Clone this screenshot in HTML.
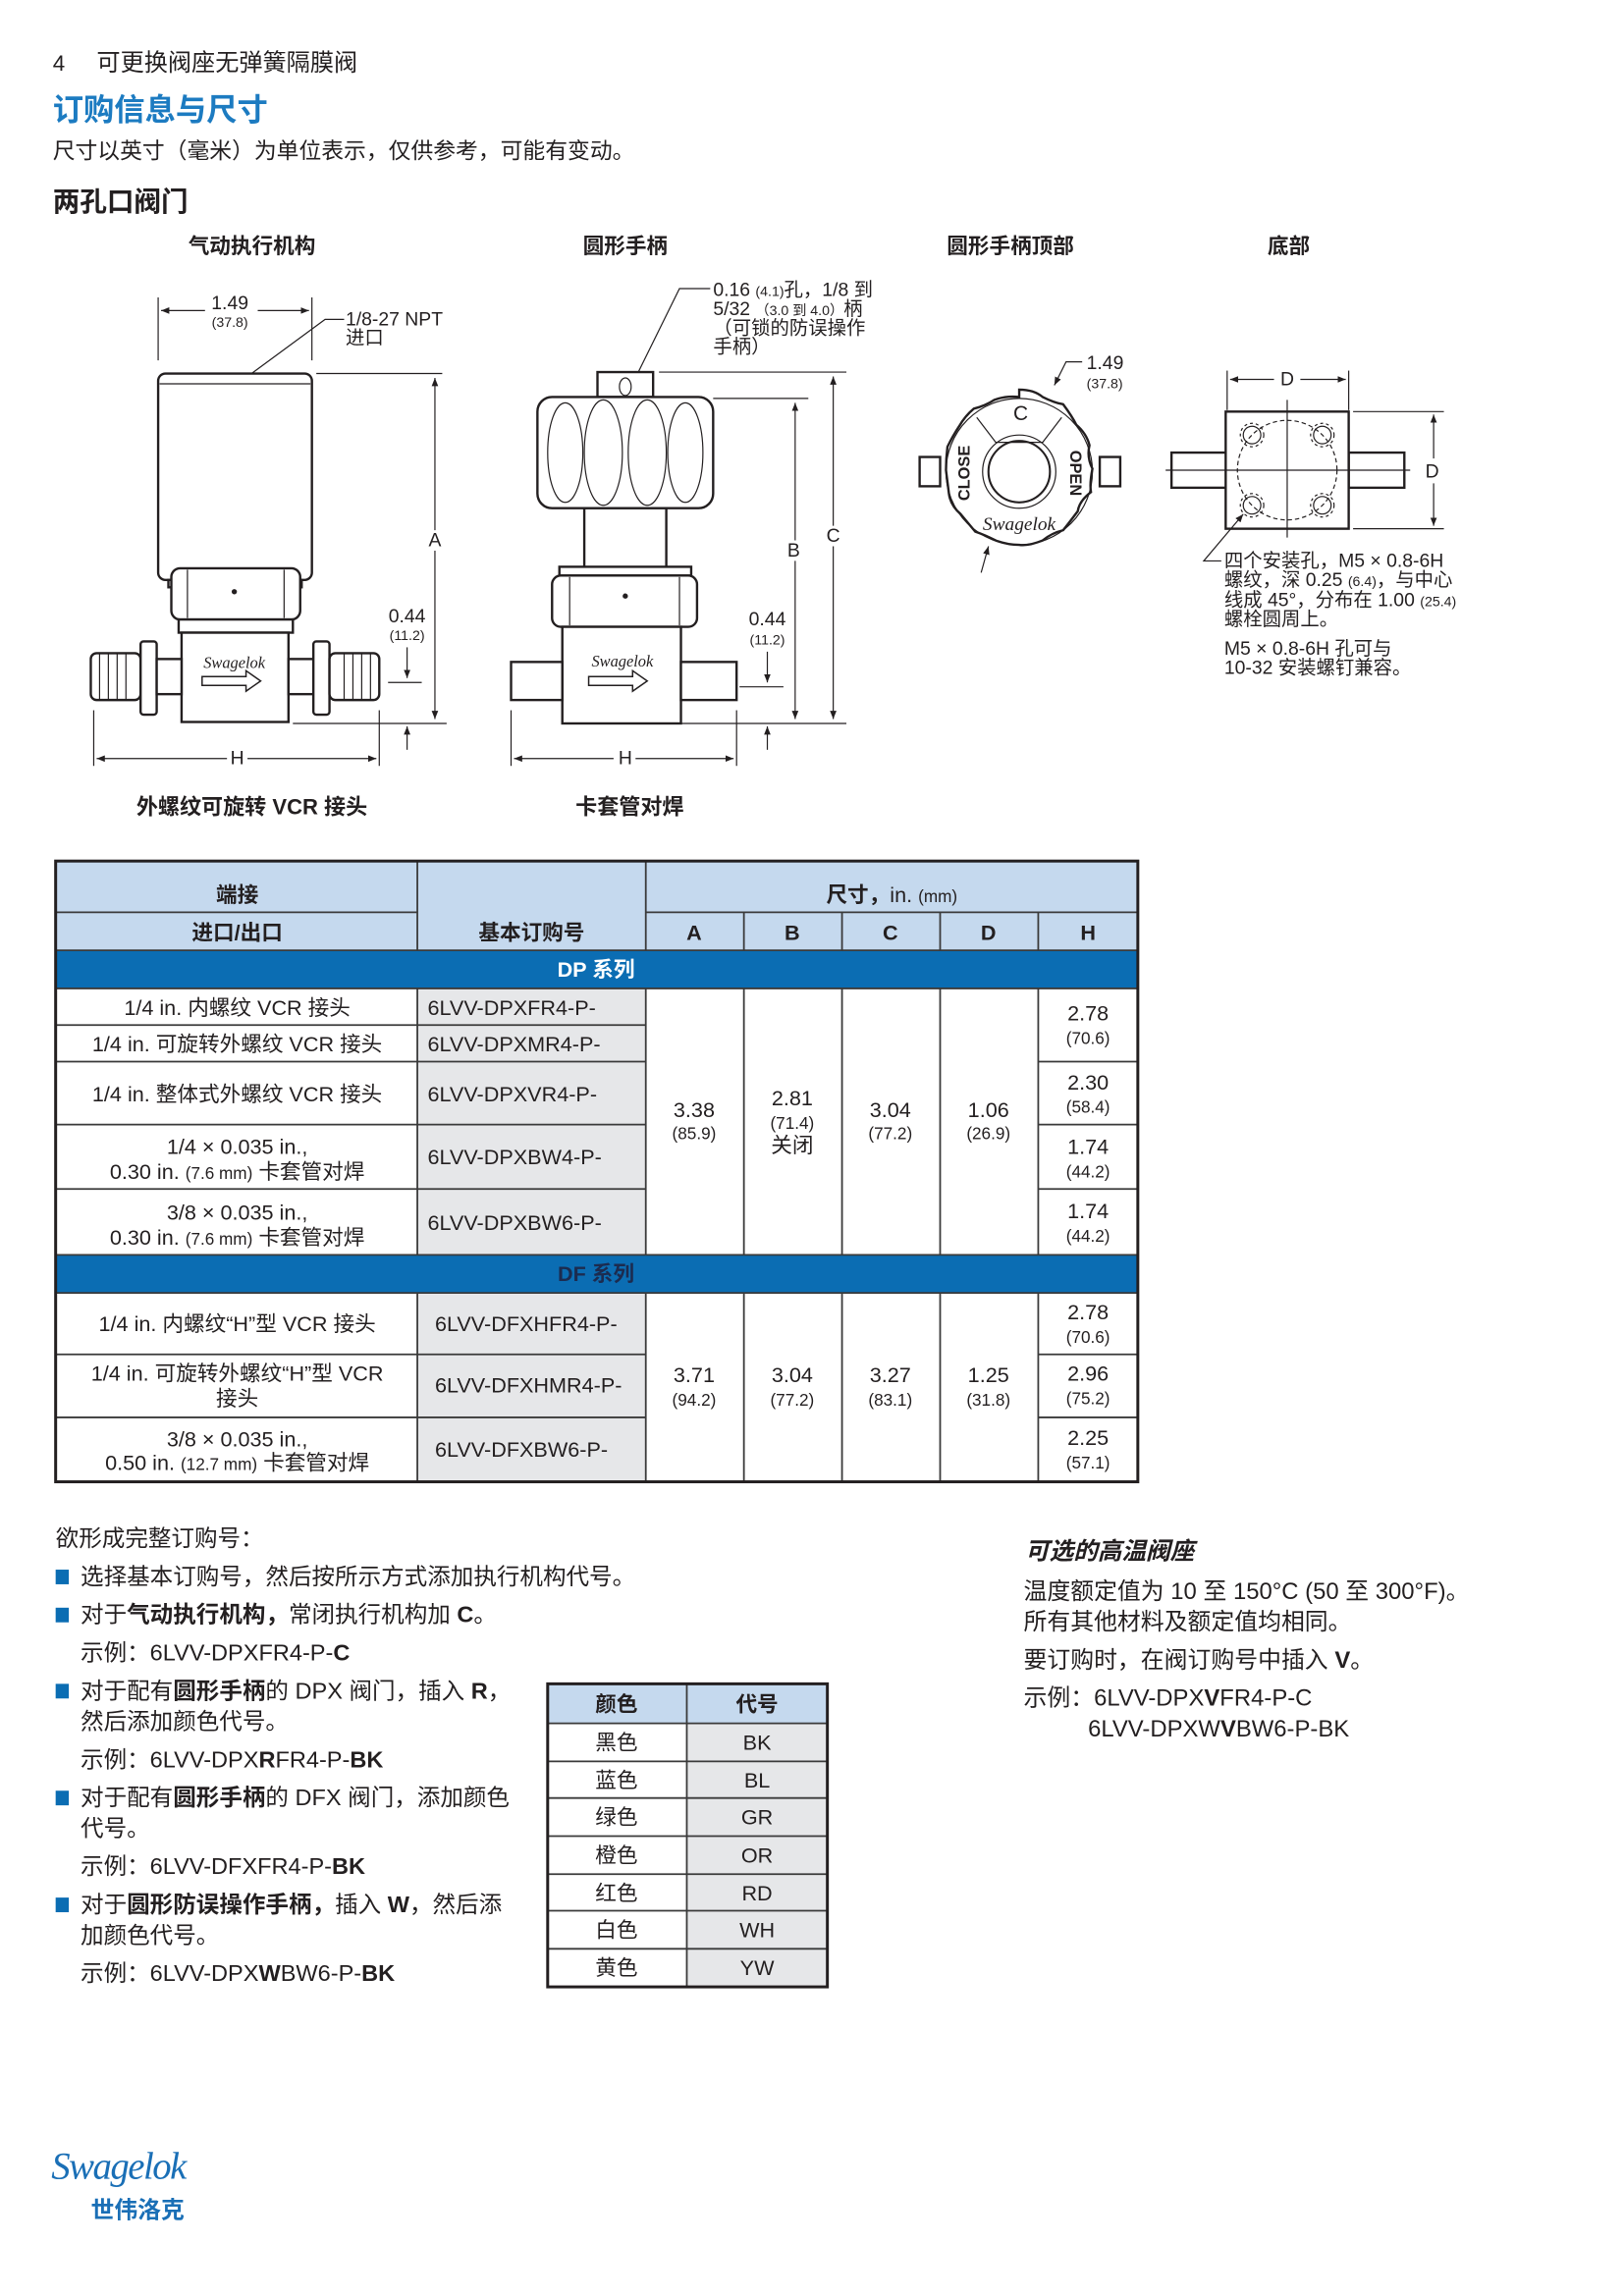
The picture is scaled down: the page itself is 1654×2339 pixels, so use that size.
<!DOCTYPE html>
<html><head><meta charset="utf-8"><style>
html,body{margin:0;padding:0;background:#fff}
svg{display:block}
text{font-family:"Liberation Sans","Noto Sans CJK SC",sans-serif;fill:#231f20}
.b{font-weight:bold}
.s{font-size:13px}
.xs{font-size:9.5px}
.ln{stroke:#231f20;fill:none;stroke-width:.8}
.tk{stroke:#231f20;fill:#fff;stroke-width:1.6}
.c{text-anchor:middle}
.td{font-size:14.5px}
.tm{font-size:11.5px}
.bd{font-size:15.8px}
</style></head><body>
<svg width="1654" height="2339" viewBox="0 0 1109 1568" xmlns="http://www.w3.org/2000/svg">
<defs>
<marker id="ar" viewBox="0 0 10 10" refX="10" refY="5" markerWidth="7" markerHeight="7" orient="auto-start-reverse"><path d="M0,1 L10,5 L0,9 z" fill="#231f20"/></marker>
</defs>
<text x="36" y="48" style="font-size:15px">4</text>
<text x="66" y="48" style="font-size:16.2px">可更换阀座无弹簧隔膜阀</text>
<text x="36" y="82" class="b" style="font-size:21px;fill:#1c7bc1">订购信息与尺寸</text>
<text x="36" y="108" style="font-size:15.3px">尺寸以英寸（毫米）为单位表示，仅供参考，可能有变动。</text>
<text x="36" y="144" class="b" style="font-size:18.5px">两孔口阀门</text>
<text x="172" y="173" class="b c" style="font-size:14.5px">气动执行机构</text>
<text x="427" y="173" class="b c" style="font-size:14.5px">圆形手柄</text>
<text x="690" y="173" class="b c" style="font-size:14.5px">圆形手柄顶部</text>
<text x="880" y="173" class="b c" style="font-size:14.5px">底部</text>
<text x="172" y="556" class="b c" style="font-size:14.8px">外螺纹可旋转 VCR 接头</text>
<text x="430" y="556" class="b c" style="font-size:14.8px">卡套管对焊</text>

<g>
<line class="ln" x1="108" y1="203" x2="108" y2="246"/><line class="ln" x1="213" y1="203" x2="213" y2="246"/>
<line class="ln" x1="110" y1="212" x2="140" y2="212" marker-start="url(#ar)"/><line class="ln" x1="176" y1="212" x2="211" y2="212" marker-end="url(#ar)"/>
<text x="157" y="211" class="s c">1.49</text><text x="157" y="223" class="xs c">(37.8)</text>
<text x="236" y="222" class="s">1/8-27 NPT</text><text x="236" y="235" class="s">进口</text>
<polyline class="ln" points="235,218 222,218 165,260" marker-end="url(#ar)"/>
<rect class="tk" x="108" y="255" width="105" height="141" rx="5"/>
<line class="ln" x1="109" y1="262" x2="212" y2="262"/>
<rect class="tk" x="115" y="396" width="91" height="5"/>
<rect class="tk" x="117" y="388" width="88" height="35" rx="6"/>
<line class="ln" x1="128" y1="389" x2="128" y2="422"/><line class="ln" x1="194" y1="389" x2="194" y2="422"/>
<circle cx="160" cy="404" r="1.8" fill="#231f20"/>
<rect class="tk" x="122" y="423" width="78" height="9"/>
<rect class="tk" x="124" y="432" width="73" height="61"/>
<text x="160" y="456" class="c" style="font-family:'Liberation Serif',serif;font-style:italic;font-size:11px">Swagelok</text>
<path class="ln" d="M138,462 h30 v-4 l10,7 l-10,7 v-4 h-30 z" style="stroke-width:1"/>
<rect class="tk" x="62" y="446" width="34" height="32" rx="4"/>
<line class="ln" x1="68" y1="446" x2="68" y2="478"/><line class="ln" x1="74" y1="446" x2="74" y2="478"/><line class="ln" x1="80" y1="446" x2="80" y2="478"/><line class="ln" x1="86" y1="446" x2="86" y2="478"/>
<rect class="tk" x="96" y="438" width="11" height="50" rx="2"/>
<rect class="tk" x="107" y="450" width="17" height="24"/>
<rect class="tk" x="197" y="450" width="17" height="24"/>
<rect class="tk" x="214" y="438" width="11" height="50" rx="2"/>
<rect class="tk" x="225" y="446" width="34" height="32" rx="4"/>
<line class="ln" x1="235" y1="446" x2="235" y2="478"/><line class="ln" x1="241" y1="446" x2="241" y2="478"/><line class="ln" x1="247" y1="446" x2="247" y2="478"/><line class="ln" x1="253" y1="446" x2="253" y2="478"/>
<line class="ln" x1="216" y1="255" x2="302" y2="255"/>
<line class="ln" x1="297" y1="258" x2="297" y2="362" marker-start="url(#ar)"/><line class="ln" x1="297" y1="376" x2="297" y2="491" marker-end="url(#ar)"/>
<text x="297" y="373" class="s c">A</text>
<line class="ln" x1="200" y1="494" x2="305" y2="494"/>
<text x="278" y="425" class="s c">0.44</text><text x="278" y="437" class="xs c">(11.2)</text>
<line class="ln" x1="278" y1="442" x2="278" y2="463" marker-end="url(#ar)"/>
<line class="ln" x1="265" y1="466" x2="288" y2="466"/>
<line class="ln" x1="278" y1="512" x2="278" y2="496" marker-end="url(#ar)"/>
<line class="ln" x1="64" y1="485" x2="64" y2="523"/><line class="ln" x1="259" y1="485" x2="259" y2="523"/>
<line class="ln" x1="66" y1="518" x2="155" y2="518" marker-start="url(#ar)"/><line class="ln" x1="169" y1="518" x2="257" y2="518" marker-end="url(#ar)"/>
<text x="162" y="522" class="s c">H</text>
</g>

<g>
<text x="487" y="202" class="s">0.16 <tspan class="xs">(4.1)</tspan>孔，1/8 到</text>
<text x="487" y="215" class="s">5/32 <tspan class="xs">（3.0 到 4.0）</tspan>柄</text>
<text x="487" y="228" class="s">（可锁的防误操作</text>
<text x="487" y="241" class="s">手柄）</text>
<polyline class="ln" points="485,197 464,197 429,268" marker-end="url(#ar)"/>
<rect class="tk" x="408" y="254" width="38" height="17"/>
<ellipse class="ln" cx="427" cy="264" rx="4" ry="6"/>
<rect class="tk" x="367" y="271" width="120" height="76" rx="10"/>
<ellipse class="ln" cx="386" cy="309" rx="12" ry="34"/><ellipse class="ln" cx="412" cy="309" rx="13" ry="36"/><ellipse class="ln" cx="442" cy="309" rx="13" ry="36"/><ellipse class="ln" cx="468" cy="309" rx="12" ry="34"/>
<rect class="tk" x="399" y="347" width="56" height="41"/>
<rect class="tk" x="382" y="387" width="90" height="6"/>
<rect class="tk" x="377" y="393" width="99" height="35" rx="6"/>
<line class="ln" x1="389" y1="394" x2="389" y2="427"/><line class="ln" x1="464" y1="394" x2="464" y2="427"/>
<circle cx="427" cy="407" r="1.8" fill="#231f20"/>
<rect class="tk" x="384" y="428" width="81" height="66"/>
<text x="425" y="455" class="c" style="font-family:'Liberation Serif',serif;font-style:italic;font-size:11px">Swagelok</text>
<path class="ln" d="M402,462 h30 v-4 l10,7 l-10,7 v-4 h-30 z" style="stroke-width:1"/>
<rect class="tk" x="349" y="452" width="35" height="26"/>
<rect class="tk" x="465" y="452" width="38" height="26"/>
<line class="ln" x1="487" y1="272" x2="552" y2="272"/>
<line class="ln" x1="450" y1="254" x2="578" y2="254"/>
<line class="ln" x1="543" y1="275" x2="543" y2="369" marker-start="url(#ar)"/><line class="ln" x1="543" y1="383" x2="543" y2="491" marker-end="url(#ar)"/>
<text x="542" y="380" class="s c">B</text>
<line class="ln" x1="569" y1="257" x2="569" y2="359" marker-start="url(#ar)"/><line class="ln" x1="569" y1="373" x2="569" y2="491" marker-end="url(#ar)"/>
<text x="569" y="370" class="s c">C</text>
<line class="ln" x1="465" y1="494" x2="578" y2="494"/>
<text x="524" y="427" class="s c">0.44</text><text x="524" y="440" class="xs c">(11.2)</text>
<line class="ln" x1="524" y1="445" x2="524" y2="466" marker-end="url(#ar)"/>
<line class="ln" x1="505" y1="469" x2="535" y2="469"/>
<line class="ln" x1="524" y1="512" x2="524" y2="496" marker-end="url(#ar)"/>
<line class="ln" x1="349" y1="485" x2="349" y2="523"/><line class="ln" x1="503" y1="485" x2="503" y2="523"/>
<line class="ln" x1="351" y1="518" x2="419" y2="518" marker-start="url(#ar)"/><line class="ln" x1="434" y1="518" x2="501" y2="518" marker-end="url(#ar)"/>
<text x="427" y="522" class="s c">H</text>
</g>

<g>
<text x="742" y="252" class="s">1.49</text><text x="742" y="265" class="xs">(37.8)</text>
<polyline class="ln" points="739,247 728,247 720,263" marker-end="url(#ar)"/>
<rect class="tk" x="628" y="312" width="14" height="20"/>
<rect class="tk" x="751" y="312" width="14" height="20"/>
<path class="tk" d="M696,266 q10,0 16,5 q8,4 14,5 q6,8 9,14 q7,6 9,14 q-2,8 2,16 q-2,10 -1,16 q-8,6 -9,13 q-6,8 -10,13 q-8,2 -14,7 q-10,4 -16,3 q-8,0 -16,-3 q-8,-4 -14,-6 q-5,-6 -10,-12 q-7,-6 -8,-14 q-1,-8 -2,-16 q0,-8 1,-16 q4,-8 8,-14 q4,-7 10,-12 q8,-2 14,-6 q8,-3 17,-2 z"/>
<circle class="ln" cx="696" cy="322" r="50"/>
<circle class="ln" cx="696" cy="322" r="25"/><circle class="ln" cx="696" cy="322" r="21" style="stroke-width:1.4"/>
<polyline class="ln" points="667,285 680,302 712,302 725,285"/>
<text x="697" y="287" class="c" style="font-size:14px">C</text>
<text transform="translate(662,323) rotate(-90)" class="b c" style="font-size:11px">CLOSE</text>
<text transform="translate(731,323) rotate(90)" class="b c" style="font-size:11px">OPEN</text>
<text x="696" y="362" class="c" style="font-family:'Liberation Serif',serif;font-style:italic;font-size:13px">Swagelok</text>
<line class="ln" x1="670" y1="391" x2="675" y2="373" marker-end="url(#ar)"/>
</g>

<g>
<line class="ln" x1="838" y1="253" x2="838" y2="280"/><line class="ln" x1="921" y1="253" x2="921" y2="280"/>
<line class="ln" x1="840" y1="259" x2="870" y2="259" marker-start="url(#ar)"/><line class="ln" x1="888" y1="259" x2="919" y2="259" marker-end="url(#ar)"/>
<text x="879" y="263" class="s c">D</text>
<rect class="tk" x="800" y="309" width="38" height="24"/>
<rect class="tk" x="921" y="309" width="38" height="24"/>
<rect class="tk" x="837" y="281" width="84" height="80"/>
<line class="ln" x1="796" y1="321" x2="963" y2="321"/><line class="ln" x1="879" y1="273" x2="879" y2="367"/>
<circle class="ln" cx="879" cy="321" r="34" style="stroke-dasharray:3 2"/>
<g class="ln">
<circle cx="855" cy="297" r="6"/><circle cx="903" cy="297" r="6"/><circle cx="855" cy="345" r="6"/><circle cx="903" cy="345" r="6"/>
<circle cx="855" cy="297" r="8" style="stroke-dasharray:2 2"/><circle cx="903" cy="297" r="8" style="stroke-dasharray:2 2"/><circle cx="855" cy="345" r="8" style="stroke-dasharray:2 2"/><circle cx="903" cy="345" r="8" style="stroke-dasharray:2 2"/>
</g>
<line class="ln" x1="924" y1="281" x2="986" y2="281"/><line class="ln" x1="924" y1="361" x2="986" y2="361"/>
<line class="ln" x1="979" y1="283" x2="979" y2="313" marker-start="url(#ar)"/><line class="ln" x1="979" y1="330" x2="979" y2="359" marker-end="url(#ar)"/>
<text x="978" y="326" class="s c">D</text>
<polyline class="ln" points="834,383 822,383 849,351" marker-end="url(#ar)"/>
<text x="836" y="387" class="s">四个安装孔，M5 × 0.8-6H</text>
<text x="836" y="400" class="s">螺纹，深 0.25 <tspan class="xs">(6.4)</tspan>，与中心</text>
<text x="836" y="414" class="s">线成 45°，分布在 1.00 <tspan class="xs">(25.4)</tspan></text>
<text x="836" y="427" class="s">螺栓圆周上。</text>
<text x="836" y="447" class="s">M5 × 0.8-6H 孔可与</text>
<text x="836" y="460" class="s">10-32 安装螺钉兼容。</text>
</g>

<g>
<rect x="38" y="588" width="739" height="61" fill="#c5d9ee"/>
<rect x="38" y="649" width="739" height="26" fill="#0b6db3"/>
<rect x="38" y="857" width="739" height="26" fill="#0b6db3"/>
<rect x="285" y="675" width="156" height="182" fill="#e6e7e9"/>
<rect x="285" y="883" width="156" height="129" fill="#e6e7e9"/>
<g stroke="#3a3a3a" stroke-width="1.2">
<line x1="38" y1="623" x2="285" y2="623"/><line x1="441" y1="623" x2="777" y2="623"/>
<line x1="38" y1="649" x2="777" y2="649"/><line x1="38" y1="675" x2="777" y2="675"/>
<line x1="38" y1="857" x2="777" y2="857"/><line x1="38" y1="883" x2="777" y2="883"/>
<line x1="38" y1="700" x2="441" y2="700"/><line x1="38" y1="725" x2="441" y2="725"/><line x1="709" y1="725" x2="777" y2="725"/>
<line x1="38" y1="768" x2="441" y2="768"/><line x1="709" y1="768" x2="777" y2="768"/>
<line x1="38" y1="812" x2="441" y2="812"/><line x1="709" y1="812" x2="777" y2="812"/>
<line x1="38" y1="925" x2="441" y2="925"/><line x1="709" y1="925" x2="777" y2="925"/>
<line x1="38" y1="968" x2="441" y2="968"/><line x1="709" y1="968" x2="777" y2="968"/>
<line x1="285" y1="588" x2="285" y2="649"/><line x1="441" y1="588" x2="441" y2="649"/>
<line x1="508" y1="623" x2="508" y2="649"/><line x1="575" y1="623" x2="575" y2="649"/><line x1="642" y1="623" x2="642" y2="649"/><line x1="709" y1="623" x2="709" y2="649"/>
<line x1="285" y1="675" x2="285" y2="857"/><line x1="441" y1="675" x2="441" y2="857"/><line x1="508" y1="675" x2="508" y2="857"/><line x1="575" y1="675" x2="575" y2="857"/><line x1="642" y1="675" x2="642" y2="857"/><line x1="709" y1="675" x2="709" y2="857"/>
<line x1="285" y1="883" x2="285" y2="1012"/><line x1="441" y1="883" x2="441" y2="1012"/><line x1="508" y1="883" x2="508" y2="1012"/><line x1="575" y1="883" x2="575" y2="1012"/><line x1="642" y1="883" x2="642" y2="1012"/><line x1="709" y1="883" x2="709" y2="1012"/>
</g>
<rect x="38" y="588" width="739" height="424" fill="none" stroke="#231f20" stroke-width="2"/>
<text x="162" y="616" class="b c" style="font-size:14.5px">端接</text>
<text x="162" y="642" class="b c" style="font-size:14.5px">进口/出口</text>
<text x="363" y="642" class="b c" style="font-size:14.5px">基本订购号</text>
<text x="609" y="616" class="c" style="font-size:14.5px"><tspan class="b">尺寸，</tspan>in. <tspan style="font-size:11.5px">(mm)</tspan></text>
<text x="474" y="642" class="b c" style="font-size:14.5px">A</text><text x="541" y="642" class="b c" style="font-size:14.5px">B</text><text x="608" y="642" class="b c" style="font-size:14.5px">C</text><text x="675" y="642" class="b c" style="font-size:14.5px">D</text><text x="743" y="642" class="b c" style="font-size:14.5px">H</text>
<text x="407" y="667" class="b c" style="font-size:14.5px;fill:#fff">DP 系列</text>
<text x="407" y="875" class="b c" style="font-size:14.5px;fill:#1c2b4f">DF 系列</text>
<text x="162" y="693" class="c td">1/4 in. 内螺纹 VCR 接头</text>
<text x="162" y="718" class="c td">1/4 in. 可旋转外螺纹 VCR 接头</text>
<text x="162" y="752" class="c td">1/4 in. 整体式外螺纹 VCR 接头</text>
<text x="162" y="788" class="c td">1/4 × 0.035 in.,</text>
<text x="162" y="805" class="c td">0.30 in. <tspan class="tm">(7.6 mm)</tspan> 卡套管对焊</text>
<text x="162" y="833" class="c td">3/8 × 0.035 in.,</text>
<text x="162" y="850" class="c td">0.30 in. <tspan class="tm">(7.6 mm)</tspan> 卡套管对焊</text>
<text x="292" y="693" class="td">6LVV-DPXFR4-P-</text>
<text x="292" y="718" class="td">6LVV-DPXMR4-P-</text>
<text x="292" y="752" class="td">6LVV-DPXVR4-P-</text>
<text x="292" y="795" class="td">6LVV-DPXBW4-P-</text>
<text x="292" y="840" class="td">6LVV-DPXBW6-P-</text>
<text x="474" y="763" class="c td">3.38</text><text x="474" y="778" class="c tm">(85.9)</text>
<text x="541" y="755" class="c td">2.81</text><text x="541" y="771" class="c tm">(71.4)</text><text x="541" y="787" class="c td">关闭</text>
<text x="608" y="763" class="c td">3.04</text><text x="608" y="778" class="c tm">(77.2)</text>
<text x="675" y="763" class="c td">1.06</text><text x="675" y="778" class="c tm">(26.9)</text>
<text x="743" y="697" class="c td">2.78</text><text x="743" y="713" class="c tm">(70.6)</text>
<text x="743" y="744" class="c td">2.30</text><text x="743" y="760" class="c tm">(58.4)</text>
<text x="743" y="788" class="c td">1.74</text><text x="743" y="804" class="c tm">(44.2)</text>
<text x="743" y="832" class="c td">1.74</text><text x="743" y="848" class="c tm">(44.2)</text>
<text x="162" y="909" class="c td">1/4 in. 内螺纹“H”型 VCR 接头</text>
<text x="162" y="943" class="c td">1/4 in. 可旋转外螺纹“H”型 VCR</text>
<text x="162" y="960" class="c td">接头</text>
<text x="162" y="988" class="c td">3/8 × 0.035 in.,</text>
<text x="162" y="1004" class="c td">0.50 in. <tspan class="tm">(12.7 mm)</tspan> 卡套管对焊</text>
<text x="297" y="909" class="td">6LVV-DFXHFR4-P-</text>
<text x="297" y="951" class="td">6LVV-DFXHMR4-P-</text>
<text x="297" y="995" class="td">6LVV-DFXBW6-P-</text>
<text x="474" y="944" class="c td">3.71</text><text x="474" y="960" class="c tm">(94.2)</text>
<text x="541" y="944" class="c td">3.04</text><text x="541" y="960" class="c tm">(77.2)</text>
<text x="608" y="944" class="c td">3.27</text><text x="608" y="960" class="c tm">(83.1)</text>
<text x="675" y="944" class="c td">1.25</text><text x="675" y="960" class="c tm">(31.8)</text>
<text x="743" y="901" class="c td">2.78</text><text x="743" y="917" class="c tm">(70.6)</text>
<text x="743" y="943" class="c td">2.96</text><text x="743" y="959" class="c tm">(75.2)</text>
<text x="743" y="987" class="c td">2.25</text><text x="743" y="1003" class="c tm">(57.1)</text>
</g>

<g>
<text x="38" y="1056" class="bd">欲形成完整订购号：</text>
<rect x="38" y="1072" width="9" height="10" fill="#0b6db3"/>
<text x="55" y="1082" class="bd">选择基本订购号，然后按所示方式添加执行机构代号。</text>
<rect x="38" y="1098" width="9" height="10" fill="#0b6db3"/>
<text x="55" y="1108" class="bd">对于<tspan class="b">气动执行机构，</tspan>常闭执行机构加 <tspan class="b">C</tspan>。</text>
<text x="55" y="1134" class="bd">示例：6LVV-DPXFR4-P-<tspan class="b">C</tspan></text>
<rect x="38" y="1150" width="9" height="10" fill="#0b6db3"/>
<text x="55" y="1160" class="bd">对于配有<tspan class="b">圆形手柄</tspan>的 DPX 阀门，插入 <tspan class="b">R</tspan>，</text>
<text x="55" y="1181" class="bd">然后添加颜色代号。</text>
<text x="55" y="1207" class="bd">示例：6LVV-DPX<tspan class="b">R</tspan>FR4-P-<tspan class="b">BK</tspan></text>
<rect x="38" y="1223" width="9" height="10" fill="#0b6db3"/>
<text x="55" y="1233" class="bd">对于配有<tspan class="b">圆形手柄</tspan>的 DFX 阀门，添加颜色</text>
<text x="55" y="1254" class="bd">代号。</text>
<text x="55" y="1280" class="bd">示例：6LVV-DFXFR4-P-<tspan class="b">BK</tspan></text>
<rect x="38" y="1296" width="9" height="10" fill="#0b6db3"/>
<text x="55" y="1306" class="bd">对于<tspan class="b">圆形防误操作手柄，</tspan>插入 <tspan class="b">W</tspan>，然后添</text>
<text x="55" y="1327" class="bd">加颜色代号。</text>
<text x="55" y="1353" class="bd">示例：6LVV-DPX<tspan class="b">W</tspan>BW6-P-<tspan class="b">BK</tspan></text>
</g>

<g>
<rect x="374" y="1150" width="191" height="27" fill="#c5d9ee"/>
<rect x="469" y="1177" width="96" height="180" fill="#e6e7e9"/>
<g stroke="#3a3a3a" stroke-width="1.2">
<line x1="374" y1="1177" x2="565" y2="1177"/><line x1="374" y1="1203" x2="565" y2="1203"/><line x1="374" y1="1228" x2="565" y2="1228"/><line x1="374" y1="1254" x2="565" y2="1254"/><line x1="374" y1="1280" x2="565" y2="1280"/><line x1="374" y1="1305" x2="565" y2="1305"/><line x1="374" y1="1331" x2="565" y2="1331"/>
<line x1="469" y1="1150" x2="469" y2="1357"/>
</g>
<rect x="374" y="1150" width="191" height="207" fill="none" stroke="#231f20" stroke-width="2"/>
<text x="421" y="1169" class="b c" style="font-size:14.5px">颜色</text><text x="517" y="1169" class="b c" style="font-size:14.5px">代号</text>
<text x="421" y="1195" class="c td">黑色</text><text x="517" y="1195" class="c td">BK</text>
<text x="421" y="1221" class="c td">蓝色</text><text x="517" y="1221" class="c td">BL</text>
<text x="421" y="1246" class="c td">绿色</text><text x="517" y="1246" class="c td">GR</text>
<text x="421" y="1272" class="c td">橙色</text><text x="517" y="1272" class="c td">OR</text>
<text x="421" y="1298" class="c td">红色</text><text x="517" y="1298" class="c td">RD</text>
<text x="421" y="1323" class="c td">白色</text><text x="517" y="1323" class="c td">WH</text>
<text x="421" y="1349" class="c td">黄色</text><text x="517" y="1349" class="c td">YW</text>
</g>

<text x="700" y="1065" class="b" style="font-size:16.5px;font-style:italic">可选的高温阀座</text>
<text x="699" y="1092" style="font-size:16px">温度额定值为 10 至 150°C (50 至 300°F)。</text>
<text x="699" y="1113" style="font-size:16px">所有其他材料及额定值均相同。</text>
<text x="699" y="1139" style="font-size:16px">要订购时，在阀订购号中插入 <tspan class="b">V</tspan>。</text>
<text x="699" y="1165" style="font-size:16px">示例：6LVV-DPX<tspan class="b">V</tspan>FR4-P-C</text>
<text x="743" y="1186" style="font-size:16px">6LVV-DPXW<tspan class="b">V</tspan>BW6-P-BK</text>

<text x="35" y="1488" style="font-family:'Liberation Serif',serif;font-style:italic;font-size:26px;fill:#1a6fb6;letter-spacing:-1px">Swagelok</text>
<text x="62" y="1515" class="b" style="font-size:16px;fill:#1a6fb6">世伟洛克</text>
</svg>
</body></html>
